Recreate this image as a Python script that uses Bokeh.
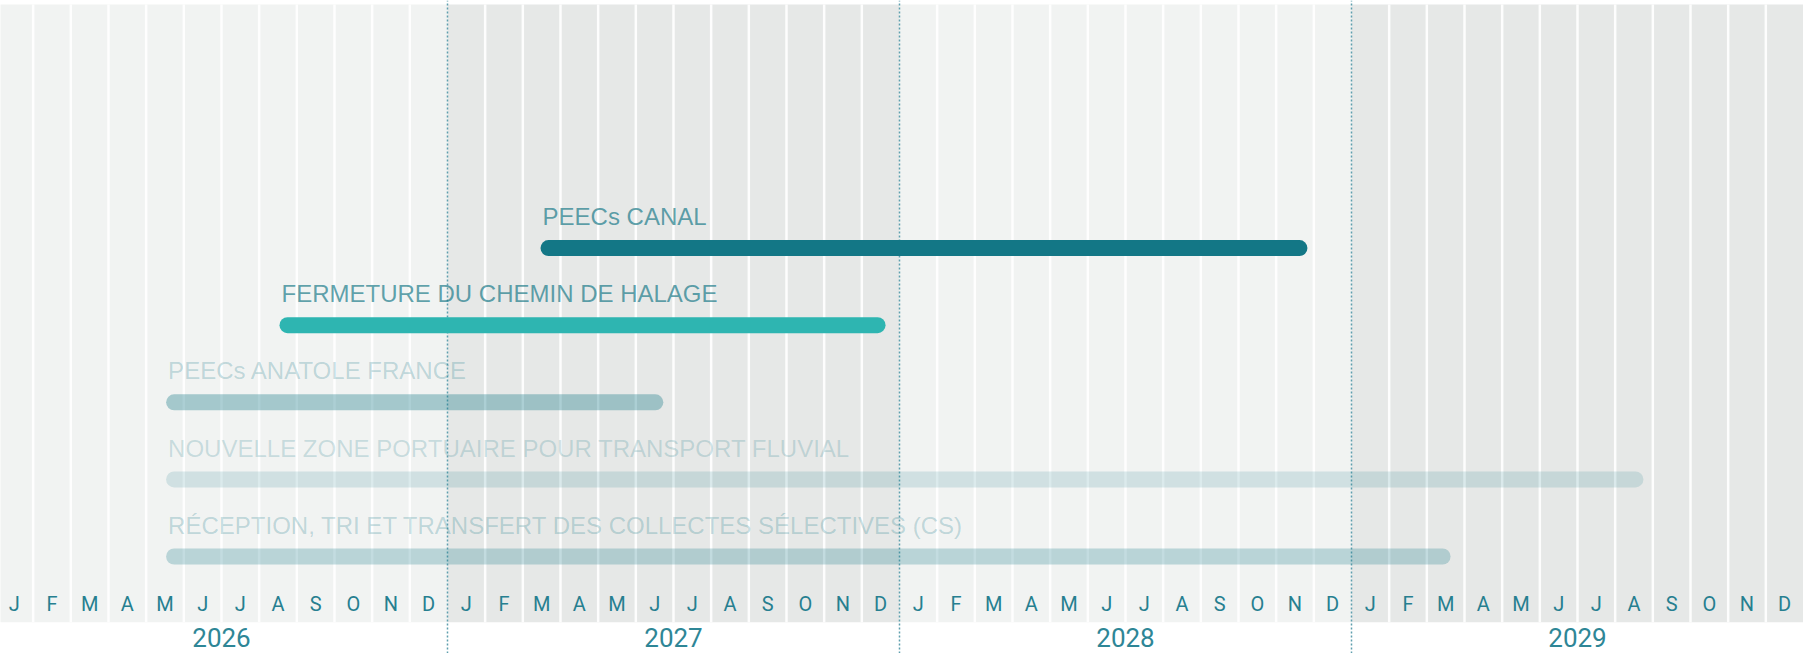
from bokeh.plotting import figure
from bokeh.models import Range1d, ColumnDataSource
from bokeh.core.properties import value
from bokeh.embed import file_html
from bokeh.resources import INLINE

# ---- data ----
tasks = [
    "RÉCEPTION, TRI ET TRANSFERT DES COLLECTES SÉLECTIVES (CS)",
    "NOUVELLE ZONE PORTUAIRE POUR TRANSPORT FLUVIAL",
    "PEECs ANATOLE FRANCE",
    "FERMETURE DU CHEMIN DE HALAGE",
    "PEECs CANAL",
]
# month index since Jan 2026 (0 = start of Jan 2026)
task_start = [4.53, 4.53, 4.53, 7.54, 14.47]
task_end = [38.63, 43.75, 17.73, 23.63, 34.83]

month_labels = ["J", "F", "M", "A", "M", "J", "J", "A", "S", "O", "N", "D"]
years = ["2026", "2027", "2028", "2029"]

# ---- styles ----
bar_colors = ["#137786", "#137786", "#137786", "#2eb5b1", "#137786"]
bar_alphas = [0.25, 0.15, 0.35, 1.0, 1.0]
label_alphas = [0.24, 0.20, 0.24, 0.68, 0.68]
band_colors = ["#f1f3f2", "#e6e8e7", "#f1f3f2", "#e6e8e7"]

n_months = 12 * len(years)
rows = list(range(len(tasks)))

Y_TOP = 7.211
Y_BOT = -1.258
BAND_TOP = 7.16
BAND_BOT = -0.852

p = figure(width=1803, height=653,
           x_range=Range1d(0.133, 48.0), y_range=Range1d(Y_BOT, Y_TOP),
           x_axis_type=None, y_axis_type=None,
           output_backend="svg", toolbar_location=None, min_border=0)
p.grid.visible = False
p.outline_line_color = None
p.background_fill_color = "white"
p.border_fill_color = "white"

# year bands
p.quad(left=[12 * i for i in range(len(years))],
       right=[12 * (i + 1) for i in range(len(years))],
       bottom=BAND_BOT, top=BAND_TOP,
       fill_color=band_colors, line_color=None)

# month separators
seps = [k for k in range(n_months + 1) if k % 12 != 0]
p.segment(x0=seps, x1=seps, y0=[BAND_BOT] * len(seps), y1=[BAND_TOP] * len(seps),
          line_color="white", line_width=2.5, line_alpha=0.9)

# year dotted lines
ylines = [12, 24, 36]
p.segment(x0=ylines, x1=ylines, y0=[Y_BOT] * 3, y1=[Y_TOP] * 3,
          line_color="#5f9fae", line_width=1.5, line_dash="2 2")

src = ColumnDataSource(dict(
    y=rows, left=task_start, right=task_end, task=tasks,
    color=bar_colors, alpha=bar_alphas, lalpha=label_alphas,
    ly=[r + 0.407 for r in rows],
))

p.hbar(y="y", left="left", right="right", height=16 / 77.1, source=src,
       fill_color="color", fill_alpha="alpha", line_color=None, border_radius=8)

p.text(x="left", y="ly", text="task", source=src, x_offset=2,
       text_font=value("Liberation Sans"), text_font_size="24px",
       text_color="#137786", text_alpha="lalpha",
       text_align="left", text_baseline="alphabetic")

# month labels
mx = [i + 0.5 for i in range(n_months)]
mt = [month_labels[i % 12] for i in range(n_months)]
p.text(x=mx, y=[-0.610] * n_months, text=mt,
       text_font=value("Roboto"), text_font_size="20px", text_color="#267f90",
       text_align="center", text_baseline="middle")

# year labels
yx = [12 * i + 6 for i in range(len(years))]
p.text(x=yx, y=[-1.045] * len(years), text=years,
       text_font=value("Roboto"), text_font_size="26px", text_color="#2e8696",
       text_align="center", text_baseline="middle")

open("out.html", "w").write(file_html(p, INLINE))
